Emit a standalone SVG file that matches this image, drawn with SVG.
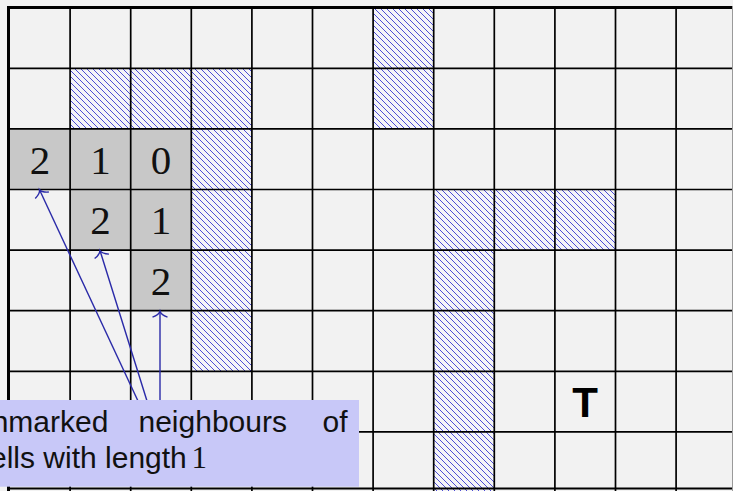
<svg xmlns="http://www.w3.org/2000/svg" width="733" height="491" viewBox="0 0 733 491">
<style>
.bg{fill:#f2f2f2}
.hatch{fill:url(#nwlines)}
.mark{fill:#c8c8c8}
.grid line{stroke:#000;stroke-width:1.7}
.num{font-family:"Liberation Serif","DejaVu Serif",serif;font-size:41px;fill:#111;text-anchor:middle}
.conn{stroke:#2a2aa8;stroke-width:1.4;fill:none;marker-end:url(#to)}
.lbl{font-family:"Liberation Sans",Arial,sans-serif;font-size:30px;fill:#111}
</style>
<defs>
<pattern id="nwlines" patternUnits="userSpaceOnUse" width="6" height="6">
<rect width="6" height="6" fill="#f4f4f8"/>
<path d="M-1,-1 L7,7 M-1,5 L1,7 M5,-1 L7,1" stroke="#3a3ad0" stroke-width="0.9"/>
</pattern>
<marker id="to" markerUnits="userSpaceOnUse" markerWidth="20" markerHeight="20" refX="0" refY="0" orient="auto" overflow="visible">
<path d="M-6,-7.5 Q-3.5,-1 0,0 Q-3.5,1 -6,7.5" fill="none" stroke="#2a2aa8" stroke-width="1.4"/>
</marker>
</defs>
<rect class="bg" x="0" y="0" width="733" height="491"/>
<g id="walls">
<rect class="hatch" x="373.1" y="7.7" width="60.6" height="120.6"/>
<rect class="hatch" x="70.1" y="68.3" width="181.8" height="60.6"/>
<rect class="hatch" x="191.3" y="68.3" width="60.6" height="303"/>
<rect class="hatch" x="433.7" y="189.5" width="181.8" height="60.6"/>
<rect class="hatch" x="433.7" y="189.5" width="60.6" height="301.5"/>
</g>
<g id="marked">
<rect class="mark" x="10" y="128.9" width="181.3" height="60.6"/>
<rect class="mark" x="70.1" y="189.5" width="121.2" height="60.6"/>
<rect class="mark" x="130.7" y="250.1" width="60.6" height="60.6"/>
</g>
<g class="grid" id="grid">
<line x1="70.1" y1="7" x2="70.1" y2="491"/>
<line x1="130.7" y1="7" x2="130.7" y2="491"/>
<line x1="191.3" y1="7" x2="191.3" y2="491"/>
<line x1="251.9" y1="7" x2="251.9" y2="491"/>
<line x1="312.5" y1="7" x2="312.5" y2="491"/>
<line x1="373.1" y1="7" x2="373.1" y2="491"/>
<line x1="433.7" y1="7" x2="433.7" y2="491"/>
<line x1="494.3" y1="7" x2="494.3" y2="491"/>
<line x1="554.9" y1="7" x2="554.9" y2="491"/>
<line x1="615.5" y1="7" x2="615.5" y2="491"/>
<line x1="676.1" y1="7" x2="676.1" y2="491"/>
<line x1="8" y1="68.3" x2="733" y2="68.3"/>
<line x1="8" y1="128.9" x2="733" y2="128.9"/>
<line x1="8" y1="189.5" x2="733" y2="189.5"/>
<line x1="8" y1="250.1" x2="733" y2="250.1"/>
<line x1="8" y1="310.7" x2="733" y2="310.7"/>
<line x1="8" y1="371.3" x2="733" y2="371.3"/>
<line x1="8" y1="431.9" x2="733" y2="431.9"/>
<line x1="8" y1="488.5" x2="733" y2="488.5" style="stroke-width:2.2"/>
<line x1="7" y1="7.5" x2="733" y2="7.5" style="stroke-width:3"/>
<line x1="8.5" y1="6" x2="8.5" y2="491" style="stroke-width:3"/>
<line x1="732.5" y1="6" x2="732.5" y2="491" style="stroke:#9a9a9a;stroke-width:1"/>
</g>
<g id="numbers">
<text class="num" x="40" y="173.8">2</text>
<text class="num" x="100.4" y="173.8">1</text>
<text class="num" x="161" y="173.8">0</text>
<text class="num" x="100.4" y="234.4">2</text>
<text class="num" x="161" y="234.4">1</text>
<text class="num" x="161" y="295">2</text>
</g>
<g id="target">
<text x="585.2" y="416.7" font-family="Liberation Sans, Arial, sans-serif" font-weight="bold" font-size="42" fill="#000" text-anchor="middle">T</text>
</g>
<g id="connectors">
<line class="conn" x1="138" y1="401" x2="39.5" y2="189.8"/>
<line class="conn" x1="147" y1="401" x2="100" y2="250.6"/>
<line class="conn" x1="160" y1="401" x2="160" y2="311.2"/>
</g>
<g id="label">
<rect x="-1" y="400" width="360" height="86.7" fill="#c8c8f8"/>
<text class="lbl" y="431.7"><tspan x="-25">unmarked</tspan><tspan x="138.5">neighbours</tspan><tspan x="322.5">of</tspan></text>
<text class="lbl" y="468.3"><tspan x="-25">cells with length</tspan><tspan x="191.5" font-family="Liberation Serif, DejaVu Serif, serif" font-size="31">1</tspan></text>
</g>
</svg>
